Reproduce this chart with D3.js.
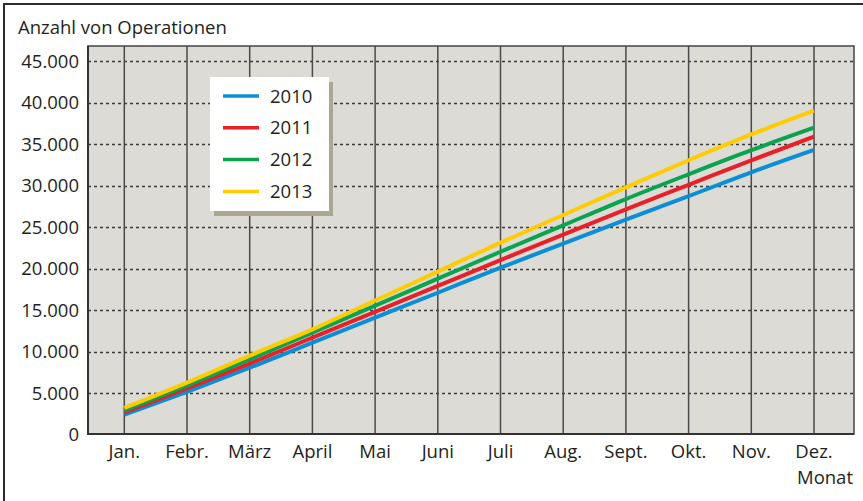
<!DOCTYPE html>
<html>
<head>
<meta charset="utf-8">
<script src="https://cdn.jsdelivr.net/npm/d3@7"></script>
<style>
    html, body { margin: 0; padding: 0; background: #ffffff; }
    svg text { font-family: "Open Sans", "Noto Sans", sans-serif; fill: #231f20; }
</style>
</head>
<body>
<div id="chart"></div>
<script>
const months = ["Jan.", "Febr.", "März", "April", "Mai", "Juni", "Juli", "Aug.", "Sept.", "Okt.", "Nov.", "Dez."];
const years = ["2010", "2011", "2012", "2013"];
const values2010 = [2400, 5150, 8050, 11060, 14070, 17080, 20100, 22990, 25880, 28720, 31590, 34280];
const values2011 = [2650, 5550, 8550, 11660, 14780, 17900, 21020, 24080, 27130, 30080, 33040, 35880];
const values2012 = [2900, 5900, 9050, 12265, 15520, 18770, 22020, 25200, 28370, 31350, 34250, 36960];
const values2013 = [3200, 6250, 9500, 12675, 16150, 19630, 23110, 26450, 29780, 33040, 36150, 39010];
const yTicks = [0, 5000, 10000, 15000, 20000, 25000, 30000, 35000, 40000, 45000];
const colors = ["#0a8fd6", "#e8202a", "#0aa350", "#ffcc00"];

(function (d3) {
    "use strict";

    const width = 863, height = 501;
    const plot = {left: 88, right: 854, top: 46, bottom: 434};

    const series = [values2010, values2011, values2012, values2013];
    const fmt = v => d3.format(",")(v).replace(/,/g, ".");

    const svg = d3.select("#chart")
        .append("svg")
            .attr("width", width)
            .attr("height", height);

    // outer frame (top and left only)
    svg.append("path")
        .attr("d", `M4,${height} L4,4 L${width},4`)
        .attr("fill", "none")
        .attr("stroke", "#2b2b2b")
        .attr("stroke-width", 2);

    const x = d3.scalePoint()
        .domain(months)
        .range([124.3, 814]);

    const y = d3.scaleLinear()
        .domain([0, 45000])
        .range([434.5, 61]);

    svg.append("rect")
        .attr("x", plot.left)
        .attr("y", plot.top)
        .attr("width", plot.right - plot.left)
        .attr("height", plot.bottom - plot.top)
        .attr("fill", "#dcdbd5");

    // horizontal dashed grid
    svg.append("g")
        .selectAll("line")
        .data(yTicks.filter(d => d > 0))
        .enter()
        .append("line")
            .attr("x1", plot.left)
            .attr("x2", plot.right)
            .attr("y1", d => Math.round(y(d)) + 0.5)
            .attr("y2", d => Math.round(y(d)) + 0.5)
            .attr("stroke", "#3a3a3a")
            .attr("stroke-width", 1.3)
            .attr("stroke-dasharray", "3,3");

    // vertical grid
    svg.append("g")
        .selectAll("line")
        .data(months)
        .enter()
        .append("line")
            .attr("x1", d => x(d))
            .attr("x2", d => x(d))
            .attr("y1", plot.top)
            .attr("y2", plot.bottom)
            .attr("stroke", "#4a4a4a")
            .attr("stroke-width", 1.5);

    // plot border
    svg.append("rect")
        .attr("x", plot.left)
        .attr("y", plot.top)
        .attr("width", plot.right - plot.left)
        .attr("height", plot.bottom - plot.top)
        .attr("fill", "none")
        .attr("stroke", "#444444")
        .attr("stroke-width", 1.5);
    svg.append("path")
        .attr("d", `M${plot.left},${plot.top} L${plot.left},${plot.bottom} L${plot.right},${plot.bottom}`)
        .attr("fill", "none")
        .attr("stroke", "#333333")
        .attr("stroke-width", 2);

    // y tick labels
    svg.append("g")
        .selectAll("text")
        .data(yTicks)
        .enter()
        .append("text")
            .attr("x", 79)
            .attr("y", d => y(d))
            .attr("dy", "0.36em")
            .attr("text-anchor", "end")
            .style("font-size", "18.5px")
            .text(d => fmt(d));

    // x tick labels
    svg.append("g")
        .selectAll("text")
        .data(months)
        .enter()
        .append("text")
            .attr("x", d => x(d))
            .attr("y", 458)
            .attr("text-anchor", "middle")
            .style("font-size", "18.5px")
            .text(d => d);

    svg.append("text")
        .attr("x", 18)
        .attr("y", 34)
        .style("font-size", "18.5px")
        .text("Anzahl von Operationen");

    svg.append("text")
        .attr("x", 853)
        .attr("y", 484)
        .attr("text-anchor", "end")
        .style("font-size", "18.5px")
        .text("Monat");

    const line = d3.line()
        .x((d, i) => x(months[i]))
        .y(d => y(d))
        .curve(d3.curveMonotoneX);

    svg.append("g")
        .selectAll("path")
        .data(series)
        .enter()
        .append("path")
            .attr("d", d => line(d))
            .attr("fill", "none")
            .attr("stroke", (d, i) => colors[i])
            .attr("stroke-width", 4);

    // legend
    const legend = svg.append("g");
    legend.append("rect")
        .attr("x", 214)
        .attr("y", 82)
        .attr("width", 119)
        .attr("height", 134)
        .attr("fill", "#aaa893");
    legend.append("rect")
        .attr("x", 210)
        .attr("y", 77)
        .attr("width", 119)
        .attr("height", 134)
        .attr("fill", "#ffffff");

    const item = legend.selectAll("g.item")
        .data(years)
        .enter()
        .append("g")
            .attr("class", "item")
            .attr("transform", (d, i) => `translate(0, ${96 + i * 31.8})`);
    item.append("line")
        .attr("x1", 223)
        .attr("x2", 259)
        .attr("stroke", (d, i) => colors[i])
        .attr("stroke-width", 3.5);
    item.append("text")
        .attr("x", 270)
        .attr("dy", "0.36em")
        .style("font-size", "18.5px")
        .text(d => d);
})(d3);
</script>
</body>
</html>
